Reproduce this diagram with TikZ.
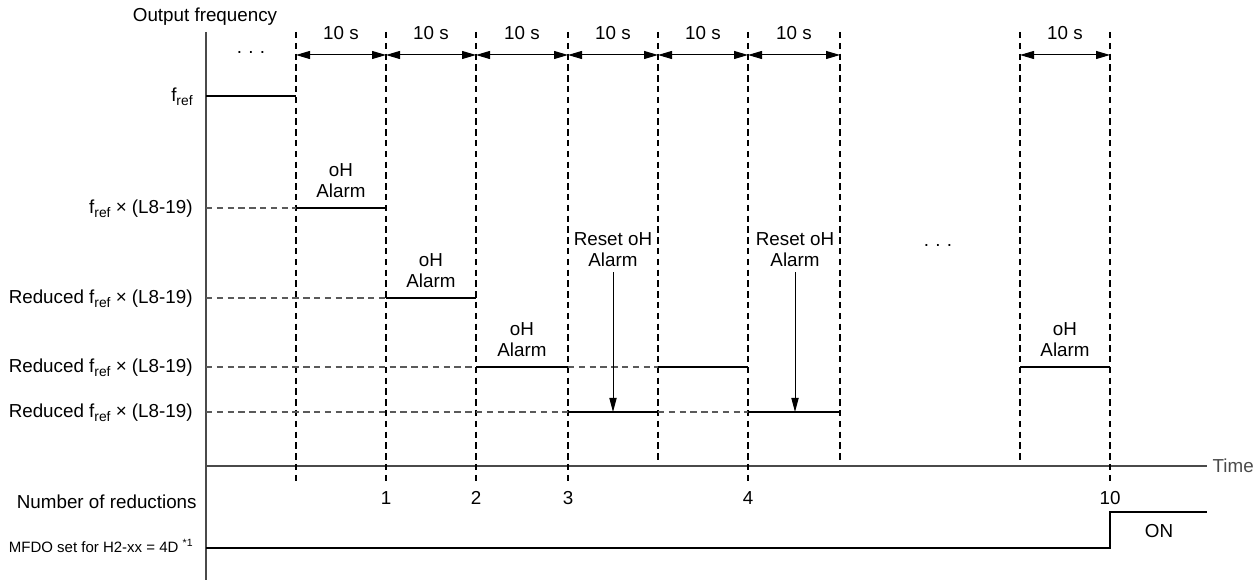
\documentclass[tikz,border=0pt]{standalone}
\usepackage{fontspec}
\setmainfont{Liberation Sans}
\usepackage{tikz}
\usetikzlibrary{arrows.meta,positioning,calc}
\definecolor{axisgray}{HTML}{4A4A4A}
\definecolor{guidegray}{HTML}{5A5A5A}
\newcommand{\fref}{f\raisebox{-2.2pt}{\fontsize{6.9}{8}\selectfont ref}}

\begin{document}
\begin{tikzpicture}[x=0.5pt,y=-0.5pt,
  axisline/.style={axisgray,line width=0.65pt},
  sigline/.style={black,line width=1pt},
  vguide/.style={black,line width=0.6pt,dash pattern=on 3.2pt off 2.2pt},
  hguide/.style={guidegray,line width=0.6pt,dash pattern=on 3.2pt off 2.2pt},
  dimarrow/.style={line width=0.5pt,{Triangle[length=7pt,width=4pt]}-{Triangle[length=7pt,width=4pt]}},
  downarrow/.style={line width=0.5pt,-{Triangle[length=7pt,width=3.6pt]}},
  txt/.style={inner sep=0pt,font=\fontsize{9.4}{10.4}\selectfont,align=center},
  lvllabel/.style={txt,anchor=east}]
  \useasboundingbox (0,0) rectangle (1253,582);
  % axes
  \coordinate (top) at (206,32);
  \coordinate (org) at (206,466);
  \draw[axisline] (top) -- (206,580);
  \draw[axisline] (org) -- (1207,466) node[txt,right,xshift=2.5pt] (time) {Time};
  \node[txt] (yname) at (205,17) {Output frequency};
  % levels
  \node[lvllabel] (lf0) at (193,97) {\fref};
  \node[lvllabel] (lf1) at (193,209) {\fref{} × (L8-19)};
  \foreach \y/\n in {298/2,367/3,412/4}
    \node[lvllabel] (lf\n) at (193,\y+1) {Reduced \fref{} × (L8-19)};
  % time marks
  \foreach \x/\b in {296/485,386/485,476/485,568/485,658/463,748/485,840/463,1020/463,1110/485}
    \draw[vguide] (\x,32) -- (\x,\b);
  \foreach \a/\b [count=\i] in {296/386,386/476,476/568,568/658,658/748,748/840,1020/1110}{
    \draw[dimarrow] (\a,55) -- (\b,55);
    \node[txt] (ten\i) at ({(\a+\b)/2},33) {10 s}; }
  \node[txt] (dots1) at (251,53) {.\,\,.\,\,.};
  \node[txt] (dots2) at (938,245) {.\,\,.\,\,.};
  % output frequency
  \draw[sigline] (206,96) -- (296,96);
  \draw[hguide] (206,208) -- (296,208);
  \draw[sigline] (296,208) -- (386,208);
  \draw[hguide] (206,298) -- (386,298);
  \draw[sigline] (386,298) -- (476,298);
  \draw[hguide] (206,367) -- (476,367);
  \draw[sigline] (476,367) -- (568,367);
  \draw[hguide] (568,367) -- (658,367);
  \draw[sigline] (658,367) -- (748,367);
  \draw[sigline] (1020,367) -- (1110,367);
  \draw[hguide] (206,412) -- (568,412);
  \draw[sigline] (568,412) -- (658,412);
  \draw[hguide] (658,412) -- (748,412);
  \draw[sigline] (748,412) -- (840,412);
  \foreach \x/\y [count=\i] in {341/181,431/271,522/340,1065/340}
    \node[txt] (oh\i) at (\x,\y) {oH\\Alarm};
  \node[txt] (rst1) at (613,250) {Reset oH\\Alarm};
  \node[txt] (rst2) at (795,250) {Reset oH\\Alarm};
  \coordinate (hit1) at (613,412);
  \coordinate (hit2) at (795,412);
  \draw[downarrow] ([yshift=-2.5pt]rst1.south) -- (hit1);
  \draw[downarrow] ([yshift=-2.5pt]rst2.south) -- (hit2);
  % reductions
  \foreach \x/\n in {386/1,476/2,568/3,748/4,1110/10}
    \node[txt] (n\n) at (\x,498) {\n};
  \node[lvllabel] (nred) at (197,502) {Number of reductions};
  \node[lvllabel,font=\fontsize{7.5}{8.5}\selectfont] (mfdo) at (194,546) {MFDO set for H2-xx = 4D \textsuperscript{*1}};
  \draw[sigline] (206,548) -- (1110,548) -- (1110,512) -- (1207,512);
  \node[txt] (on) at (1159,531) {ON};
\end{tikzpicture}
\end{document}
